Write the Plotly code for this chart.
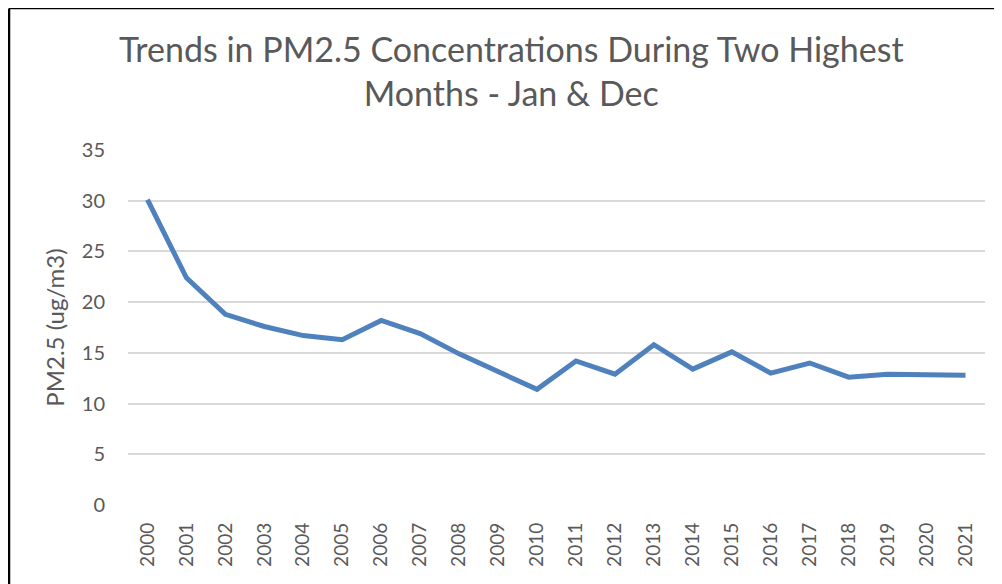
import plotly.graph_objects as go

# yearly PM2.5 averages for the two highest months (Jan & Dec)
years = [str(y) for y in range(2000, 2022)]
pm25 = [30.1, 22.4, 18.8, 17.6, 16.7, 16.3, 18.2, 16.9, 14.9, 13.2, 11.4,
        14.2, 12.9, 15.8, 13.4, 15.1, 13.0, 14.0, 12.6, 12.9, 12.9, 12.8]
y_ticks = [0, 5, 10, 15, 20, 25, 30, 35]

# the page body has an 8px margin, so everything is laid out 8px up/left
W, H = 1002, 584
L, T = 120, 142
pw, ph = 857, 355
R, B = W - L - pw, H - T - ph

grey = "#595959"
font = "Lato, 'Open Sans', sans-serif"

fig = go.Figure()
fig.add_trace(go.Scatter(
    x=years, y=pm25, mode="lines",
    line=dict(color="#4F81BD", width=5),
    hoverinfo="x+y", showlegend=False,
))

fig.update_layout(
    width=W, height=H,
    margin=dict(l=L, r=R, t=T, b=B),
    paper_bgcolor="white", plot_bgcolor="white",
    font=dict(family=font, color=grey),
    xaxis=dict(
        type="category", range=[-0.5, len(years) - 0.5], tickangle=-90,
        showgrid=False, showline=False, ticks="", zeroline=False,
        tickfont=dict(size=19, color=grey), ticklabelstandoff=13,
    ),
    yaxis=dict(
        range=[0, 35], tickvals=y_ticks, showgrid=True, gridcolor="#d9d9d9",
        gridwidth=1.5, zeroline=False, showline=False, ticks="",
        tickfont=dict(size=20, color=grey), ticklabelstandoff=22,
        title=dict(text="PM2.5 (ug/m3)", font=dict(size=24, color=grey), standoff=10),
    ),
)

# chart title as an annotation so it can be placed exactly
fig.add_annotation(
    text="Trends in PM2.5 Concentrations During Two Highest<br>Months - Jan & Dec",
    xref="paper", yref="paper", x=(503 - L) / pw, y=(T + ph - 18) / ph,
    xanchor="center", yanchor="top", showarrow=False,
    font=dict(size=34, color=grey, family=font),
)

# outer frame: left and top edges of the original chart box
fx0 = (1 - L) / pw
fy1 = (T + ph - 0.5) / ph
fig.add_shape(type="line", xref="paper", yref="paper", x0=fx0, x1=fx0,
              y0=fy1, y1=-B / ph, line=dict(color="black", width=2.5))
fig.add_shape(type="line", xref="paper", yref="paper", x0=fx0, x1=(W - L) / pw,
              y0=fy1, y1=fy1, line=dict(color="black", width=1.5))

fig.write_html("out.html")
